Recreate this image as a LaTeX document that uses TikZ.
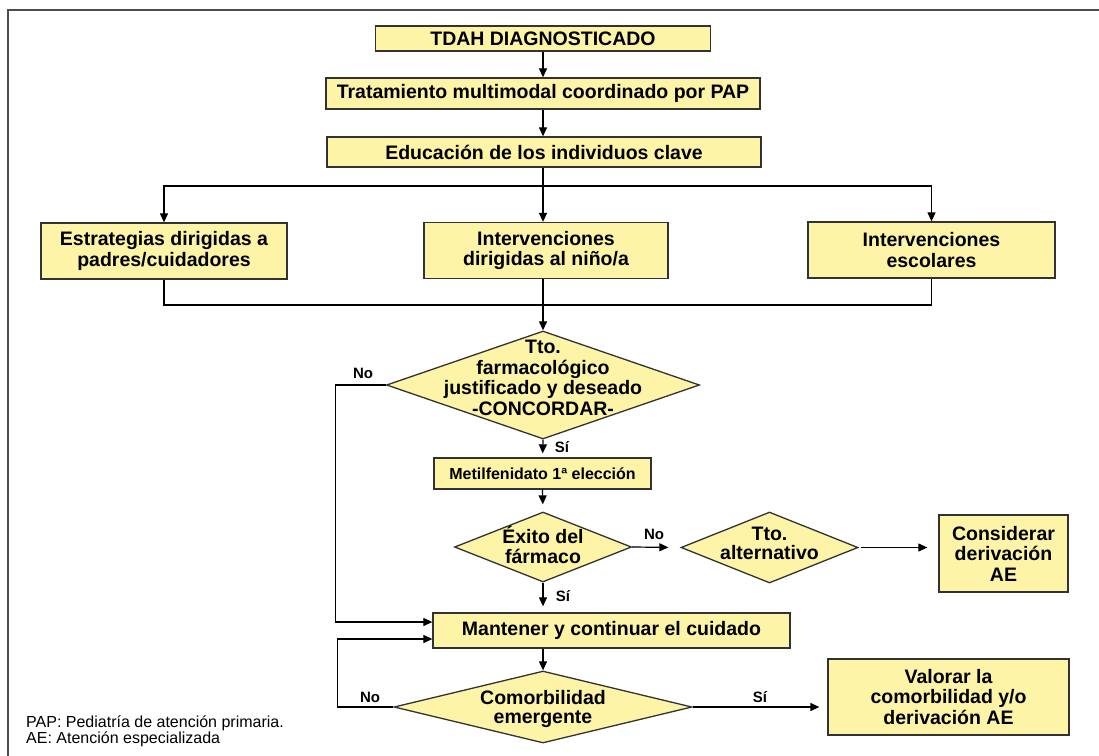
\documentclass[tikz,border=0pt]{standalone}
\usepackage{fontspec}
\setmainfont{Liberation Sans}
\usetikzlibrary{arrows.meta,shapes.geometric,calc}
\definecolor{boxfill}{RGB}{253,244,168}
\definecolor{edge}{RGB}{50,50,50}
\begin{document}
\begin{tikzpicture}[x=1pt,y=-1pt,
  boxtxt/.style={font=\fontsize{19.5}{20.5}\selectfont\bfseries, align=center},
  box/.style={draw=edge, fill=boxfill, line width=1.3pt, inner sep=0pt, boxtxt},
  diam/.style={draw=edge, fill=boxfill, line width=1.3pt, diamond, inner sep=0pt},
  lbl/.style={font=\fontsize{15}{16}\selectfont\bfseries},
  conn/.style={draw=black, line width=1.2pt},
  arr/.style={conn, -{Triangle[length=9pt,width=8pt]}}
]
\useasboundingbox (0,0) rectangle (1099,755);
\fill[white] (0,0) rectangle (1099,755);
% frame
\draw[gray!60!black, line width=2pt] (8,790) -- (8,10) -- (1130,10);

% boxes
\node[box, minimum width=335, minimum height=25] (tdah) at (543,38.5) {TDAH DIAGNOSTICADO};
\node[box, minimum width=434, minimum height=31] (trat) at (543,93.5) {Tratamiento multimodal coordinado por PAP};
\node[box, minimum width=434, minimum height=30] (edu) at (544,152) {Educación de los individuos clave};
\node[box, minimum width=246, minimum height=56] (estr) at (164,251) {Estrategias dirigidas a\\padres/cuidadores};
\node[box, minimum width=244, minimum height=56] (nino) at (546,250.5) {Intervenciones\\dirigidas al niño/a};
\node[box, minimum width=247, minimum height=56] (esco) at (931.5,250) {Intervenciones\\escolares};

\coordinate (br) at (543,186);
\coordinate (jn) at (543,305);

\node[diam, minimum width=313, minimum height=108] (d1) at (543,385) {};
\node[boxtxt] (d1t) at (543,378) {Tto.\\farmacológico\\justificado y deseado\\-CONCORDAR-};

\node[box, minimum width=217, minimum height=31, font=\fontsize{16}{18}\selectfont\bfseries] (meti) at (542.5,473.5) {Metilfenidato 1ª elección};

\node[diam, minimum width=177, minimum height=70] (d2) at (543,547) {};
\node[boxtxt] (d2t) at (543,545) {Éxito del\\fármaco};

\node[diam, minimum width=177, minimum height=71] (d3) at (769.5,547.5) {};
\node[boxtxt, font=\fontsize{19.5}{19}\selectfont\bfseries] (d3t) at (769.5,543) {Tto.\\alternativo};

\node[box, minimum width=129, minimum height=77] (cons) at (1003.5,553.5) {Considerar\\derivación\\AE};

\node[box, minimum width=357, minimum height=35] (mant) at (611.5,630.5) {Mantener y continuar el cuidado};

\node[diam, minimum width=298, minimum height=72] (d4) at (543,707) {};
\node[boxtxt, font=\fontsize{19.5}{18.5}\selectfont\bfseries] (d4t) at (543,709) {Comorbilidad\\emergente};

\node[box, minimum width=241, minimum height=76] (valor) at (948.5,697) {Valorar la\\comorbilidad y/o\\derivación AE};

% connectors
\draw[arr] (tdah.south) -- (trat.north);
\draw[arr] (trat.south) -- (trat.south |- edu.north);
\draw[arr] (edu.south -| br) -- (br |- nino.north);
\draw[arr] (br) -| (estr.north);
\draw[arr] (br) -| (esco.north);
\draw[conn] (estr.south) |- (jn) -| (esco.south);
\draw[arr] (jn |- nino.south) -- (d1.north);
\draw[arr, shorten >=4pt] (d1.south) -- (meti.north);
\draw[arr, shorten >=7pt] (meti.south) -- (d2.north);
\draw[arr, shorten >=6pt] (d2.south) -- (d2.south |- mant.north);
\draw[arr, shorten >=12pt] (d2.east) -- (d3.west);
\draw[arr, shorten <=2pt, shorten >=11pt] (d3.east) -- (d3.east -| cons.west);
\draw[arr] (d1.west) -- ++(-50,0) |- ([yshift=8.5pt]mant.west);
\draw[arr] (d4.west) -- ++(-56,0) |- ([yshift=-8.5pt]mant.west);
\draw[arr] (mant.south -| d4.north) -- (d4.north);
\draw[arr, shorten >=8pt] (d4.east) -- (d4.east -| valor.west);

% labels
\node[lbl] (l1) at (363,373) {No};
\node[lbl] (l2) at (562,447) {Sí};
\node[lbl] (l3) at (654,534) {No};
\node[lbl] (l4) at (563,596) {Sí};
\node[lbl] (l5) at (370,697) {No};
\node[lbl] (l6) at (760,697) {Sí};

% footnote
\node[anchor=west, font=\fontsize{16}{18}\selectfont, inner sep=0pt] (fn1) at (26,723) {PAP: Pediatría de atención primaria.};
\node[anchor=west, font=\fontsize{16}{18}\selectfont, inner sep=0pt] (fn2) at (26,739) {AE: Atención especializada};
\end{tikzpicture}
\end{document}
